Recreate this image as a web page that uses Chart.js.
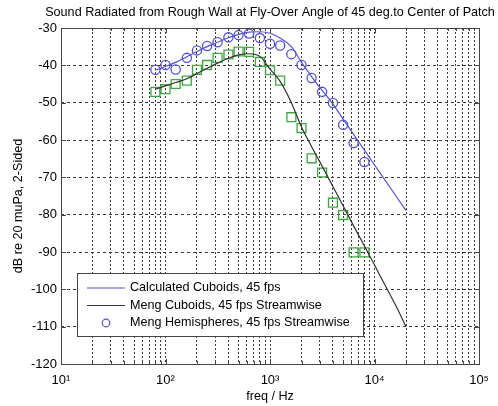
<!DOCTYPE html>
<html>
<head>
<meta charset="utf-8">
<script src="https://cdn.jsdelivr.net/npm/chart.js@4"></script>
<style>
  body { margin: 0; background: #fff; }
  canvas { display: block; }
</style>
</head>
<body>
<canvas id="myChart" width="498" height="406"></canvas>
<script>
// 1/3-octave band centres for the measured points
const bandFreq = [80, 100, 125, 160, 200, 250, 315, 400, 500, 630, 800, 1000, 1250, 1600, 2000, 2500, 3150, 4000, 5000, 6300, 8000];
const hemiDb = [-41.2, -39.9, -41.1, -38.0, -36.0, -34.8, -33.8, -32.5, -31.9, -31.5, -32.7, -34.2, -34.7, -37.0, -39.9, -43.4, -47.1, -50.1, -55.9, -60.8, -65.9];
const cuboidSqDb = [-47.1, -46.4, -45.0, -44.1, -41.2, -39.9, -38.0, -37.1, -36.3, -36.4, -39.1, -41.3, -44.1, -53.9, -56.8, -64.9, -68.7, -76.8, -80.1, -90.1, -90.1];

// curves
const curveFreq = [80, 100, 125, 160, 200, 250, 315, 400, 500, 630, 800, 1000, 1250, 1600, 2000, 2500, 3150, 4000, 5000, 6300, 8000, 10000, 12500, 16000, 20000];
const calcDb = [-41.3, -40.3, -39.2, -37.7, -36.3, -35.0, -33.8, -32.6, -31.7, -31.1, -31.0, -31.4, -32.7, -35.0, -39.2, -43.0, -46.7, -50.4, -54.4, -58.5, -62.7, -66.7, -70.6, -75.0, -78.9];
const mengDb = [-46.4, -45.5, -44.6, -43.6, -42.2, -40.8, -39.4, -38.1, -37.2, -36.9, -37.6, -41.0, -44.3, -50.0, -56.5, -61.8, -67.0, -72.5, -77.6, -83.0, -88.4, -93.5, -98.7, -104.4, -110.0];

const xTickLabels = ['10¹', '10²', '10³', '10⁴', '10⁵'];
const yTicks = [-30, -40, -50, -60, -70, -80, -90, -100, -110, -120];

const titleText = 'Sound Radiated from Rough Wall at Fly-Over Angle of 45 deg.to Center of Patch';
const legendLabels = ['Calculated Cuboids, 45 fps', 'Meng Cuboids, 45 fps Streamwise', 'Meng Hemispheres, 45 fps Streamwise'];

const BLUE = '#5252d6';
const GREEN = '#40a640';
const BLACK = '#333333';
const FONT = '"Liberation Sans", Arial, sans-serif';

const pts = (xs, ys) => xs.map((x, i) => ({x: x, y: ys[i]}));

// frame, inner ticks, title, axis titles and legend (MATLAB look)
const matlabBits = {
    id: 'matlabBits',
    afterDraw(chart) {
        const {ctx, chartArea: a, scales} = chart;
        ctx.save();
        ctx.strokeStyle = '#444';
        ctx.lineWidth = 1;
        ctx.beginPath();
        scales.x.ticks.forEach(t => {
            const px = Math.round(scales.x.getPixelForValue(t.value)) + 0.5;
            const dec = Math.abs(Math.log10(t.value) - Math.round(Math.log10(t.value))) < 1e-6;
            const len = dec ? 5 : 3;
            ctx.moveTo(px, a.bottom); ctx.lineTo(px, a.bottom - len);
            ctx.moveTo(px, a.top); ctx.lineTo(px, a.top + len);
        });
        scales.y.ticks.forEach(t => {
            const py = Math.round(scales.y.getPixelForValue(t.value)) + 0.5;
            ctx.moveTo(a.left, py); ctx.lineTo(a.left + 5, py);
            ctx.moveTo(a.right, py); ctx.lineTo(a.right - 5, py);
        });
        ctx.stroke();
        ctx.strokeRect(Math.round(a.left) + 0.5, Math.round(a.top) + 0.5, Math.round(a.right - a.left), Math.round(a.bottom - a.top));

        // title
        ctx.fillStyle = '#000';
        ctx.font = '12.6px ' + FONT;
        ctx.textAlign = 'center';
        ctx.textBaseline = 'middle';
        ctx.fillText(titleText, (a.left + a.right) / 2, 13);
        ctx.fillText('freq / Hz', (a.left + a.right) / 2, 397);

        ctx.save();
        ctx.translate(19, 206);
        ctx.rotate(-Math.PI / 2);
        ctx.fillText('dB re 20 muPa, 2-Sided', 0, 0);
        ctx.restore();

        // legend box
        const lx = 77, ly = 273, lw = 286, lh = 63;
        ctx.fillStyle = '#fff';
        ctx.fillRect(lx, ly, lw, lh);
        ctx.strokeStyle = '#444';
        ctx.strokeRect(lx + 0.5, ly + 0.5, lw, lh);
        const rows = [288, 305.5, 323];
        ctx.lineWidth = 1.2;
        ctx.strokeStyle = BLUE;
        ctx.beginPath(); ctx.moveTo(87, rows[0]); ctx.lineTo(125, rows[0]); ctx.stroke();
        ctx.strokeStyle = BLACK;
        ctx.beginPath(); ctx.moveTo(87, rows[1]); ctx.lineTo(125, rows[1]); ctx.stroke();
        ctx.strokeStyle = BLUE;
        ctx.beginPath(); ctx.arc(106, rows[2], 3.8, 0, Math.PI * 2); ctx.stroke();
        ctx.fillStyle = '#000';
        ctx.textAlign = 'left';
        legendLabels.forEach((s, i) => ctx.fillText(s, 130, rows[i]));
        ctx.restore();
    }
};

const config = {
    type: 'line',
    data: {
        datasets: [
            {
                label: legendLabels[0],
                data: pts(curveFreq, calcDb),
                borderColor: BLUE,
                borderWidth: 1.2,
                pointRadius: 0,
                cubicInterpolationMode: 'monotone'
            },
            {
                label: legendLabels[1],
                data: pts(curveFreq, mengDb),
                borderColor: BLACK,
                borderWidth: 1.2,
                pointRadius: 0,
                cubicInterpolationMode: 'monotone'
            },
            {
                label: legendLabels[2],
                data: pts(bandFreq, hemiDb),
                showLine: false,
                pointStyle: 'circle',
                pointRadius: 4.6,
                pointBorderWidth: 1.3,
                pointBorderColor: BLUE,
                pointBackgroundColor: 'rgba(0,0,0,0)'
            },
            {
                label: 'Meng Cuboids squares',
                data: pts(bandFreq, cuboidSqDb),
                showLine: false,
                pointStyle: 'rect',
                pointRadius: 6.3,
                pointBorderWidth: 1.3,
                pointBorderColor: GREEN,
                pointBackgroundColor: 'rgba(0,0,0,0)'
            }
        ]
    },
    options: {
        responsive: false,
        animation: false,
        layout: { padding: { left: 0, right: 10, top: 28, bottom: 0 } },
        plugins: {
            legend: { display: false },
            title: { display: false },
            tooltip: { enabled: false }
        },
        scales: {
            x: {
                type: 'logarithmic',
                min: 10,
                max: 100000,
                afterBuildTicks: (scale) => {
                    const t = [];
                    for (let e = 1; e <= 5; e++) {
                        for (let m = 1; m <= 9; m++) {
                            const v = m * Math.pow(10, e);
                            if (v <= 100000) t.push({value: v});
                        }
                    }
                    scale.ticks = t;
                },
                afterFit: (scale) => { scale.height = 42; },
                ticks: {
                    autoSkip: false,
                    maxRotation: 0,
                    padding: 9,
                    color: '#000',
                    font: { family: FONT, size: 13 },
                    callback: (v) => {
                        const e = Math.log10(v);
                        return Math.abs(e - Math.round(e)) < 1e-6 ? xTickLabels[Math.round(e) - 1] : '';
                    }
                },
                grid: { color: '#3a3a3a', lineWidth: 1, drawTicks: false },
                border: { display: false, dash: [2, 2] }
            },
            y: {
                min: -120,
                max: -30,
                afterBuildTicks: (scale) => { scale.ticks = yTicks.map(v => ({value: v})); },
                afterFit: (scale) => { scale.width = 61; },
                ticks: {
                    padding: 4,
                    color: '#000',
                    font: { family: FONT, size: 13 },
                    callback: (v) => String(v)
                },
                grid: { color: '#3a3a3a', lineWidth: 1, drawTicks: false },
                border: { display: false, dash: [3, 3] }
            }
        }
    },
    plugins: [matlabBits]
};

const myChart = new Chart(document.getElementById('myChart'), config);
</script>
</body>
</html>
